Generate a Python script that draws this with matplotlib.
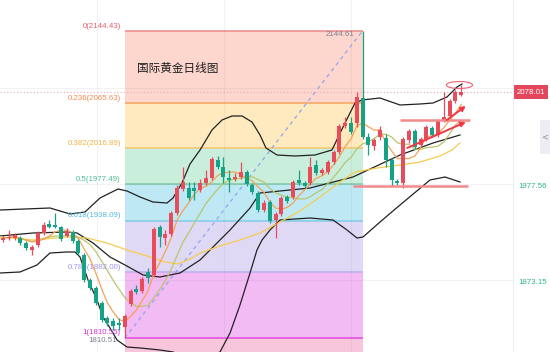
import matplotlib
matplotlib.use("Agg")
import matplotlib.pyplot as plt
import matplotlib.transforms as mtrans
from matplotlib.patches import Rectangle, Ellipse
import numpy as np
import pandas as pd

# ---------------- data ----------------
title = "国际黄金日线图"

opens = [1917.13, 1919.30, 1919.30, 1919.30, 1913.86, 1906.25, 1911.69, 1924.74, 1934.53, 1933.44,
         1931.26, 1921.48, 1925.83, 1916.04, 1900.81, 1873.62, 1864.92, 1848.61, 1832.29, 1829.03,
         1826.86, 1822.50, 1847.52, 1863.83, 1861.66, 1882.32, 1879.06, 1931.26, 1919.30, 1923.65,
         1946.49, 1972.59, 1973.68, 1973.68, 1971.51, 1979.12, 1984.56, 2004.13, 1996.52, 1984.56,
         1983.47, 1985.64, 1991.08, 1976.94, 1968.24, 1949.75, 1958.45, 1938.88, 1945.40, 1963.89,
         1963.89, 1982.38, 1979.12, 1979.12, 1998.70, 1990.00, 1991.08, 2001.96, 2012.83, 2041.11,
         2044.38, 2044.38, 2071.57, 2029.15, 2019.36, 2029.15, 2028.06, 2004.13, 1981.29, 1979.12,
         2025.89, 2035.67, 2020.45, 2026.97, 2038.94, 2031.32, 2047.64, 2051.99, 2068.30, 2074.83]
closes = [1919.30, 1920.39, 1922.56, 1913.86, 1908.43, 1909.51, 1924.74, 1933.44, 1931.26, 1931.26,
          1918.21, 1925.83, 1916.04, 1902.99, 1873.62, 1864.92, 1848.61, 1830.12, 1826.86, 1823.59,
          1824.68, 1834.47, 1861.66, 1860.57, 1874.71, 1875.80, 1929.09, 1920.39, 1923.65, 1946.49,
          1973.68, 1980.21, 1962.81, 1970.42, 1979.12, 1984.56, 2005.22, 1996.52, 1985.64, 1982.38,
          1985.64, 1991.08, 1978.03, 1969.33, 1949.75, 1957.37, 1937.79, 1945.40, 1962.81, 1959.54,
          1980.21, 1979.12, 1975.86, 1996.52, 1990.00, 1993.26, 2001.96, 2012.83, 2041.11, 2044.38,
          2034.59, 2072.65, 2029.15, 2020.45, 2025.89, 2036.76, 2004.13, 1982.38, 1979.12, 2026.97,
          2035.67, 2018.27, 2026.97, 2040.02, 2031.32, 2046.55, 2050.90, 2068.30, 2078.09, 2078.01]
highs = [1921.48, 1928.00, 1924.74, 1921.48, 1916.04, 1911.69, 1926.91, 1936.70, 1938.88, 1946.49,
         1932.35, 1930.18, 1928.00, 1918.21, 1902.99, 1875.80, 1867.10, 1850.78, 1834.47, 1832.29,
         1832.29, 1836.64, 1863.83, 1868.18, 1876.88, 1886.67, 1931.26, 1933.44, 1928.00, 1948.67,
         1976.94, 1996.52, 1980.21, 1980.21, 1983.47, 1993.26, 2007.40, 2008.48, 2007.40, 1993.26,
         1990.00, 2001.96, 1993.26, 1979.12, 1970.42, 1960.63, 1960.63, 1947.58, 1964.98, 1966.07,
         1982.38, 1993.26, 1981.29, 2007.40, 2004.13, 1995.43, 2004.13, 2015.01, 2043.29, 2050.90,
         2050.90, 2078.09, 2144.61, 2033.50, 2028.06, 2041.11, 2032.41, 2006.31, 1983.47, 2029.15,
         2037.85, 2037.85, 2029.15, 2042.20, 2041.11, 2048.73, 2078.09, 2070.48, 2080.27, 2085.70]
lows = [1914.95, 1917.13, 1917.13, 1911.69, 1906.25, 1900.81, 1909.51, 1922.56, 1930.18, 1930.18,
        1916.04, 1920.39, 1913.86, 1900.81, 1871.45, 1862.75, 1846.43, 1827.94, 1823.59, 1819.24,
        1819.24, 1810.51, 1845.34, 1858.40, 1859.48, 1870.36, 1876.88, 1909.51, 1911.69, 1921.48,
        1944.32, 1970.42, 1960.63, 1960.63, 1969.33, 1976.94, 1982.38, 1994.35, 1979.12, 1969.33,
        1981.29, 1983.47, 1975.86, 1967.16, 1947.58, 1947.58, 1935.62, 1919.30, 1943.23, 1957.37,
        1961.72, 1976.94, 1973.68, 1976.94, 1987.82, 1987.82, 1988.91, 1999.78, 2010.66, 2038.94,
        2032.41, 2040.02, 2026.97, 2009.57, 2015.01, 2025.89, 1996.52, 1975.86, 1976.94, 1973.68,
        2022.62, 2016.10, 2018.27, 2024.80, 2029.15, 2029.15, 2045.46, 2049.81, 2066.13, 2073.74]

# Bollinger bands and MA30 (x = candle index)
ub_x = [-0.5, 8.1, 11.55, 14.14, 16.72, 19.83, 21.38, 23.62, 25.86, 28.28, 29.31, 30.86, 32.24, 33.97,
        36.03, 37.76, 39.48, 41.21, 42.93, 44.31, 45.34, 47.24, 50.34, 53.79, 56.72, 58.62, 60.69,
        61.9, 65.0, 68.45, 71.9, 74.14, 76.55, 78.28, 79.14]
ub_v = [1949.75, 1951.93, 1945.40, 1947.58, 1962.81, 1972.59, 1970.42, 1963.89, 1958.45, 1957.37,
        1962.81, 1979.12, 1999.78, 2015.01, 2036.76, 2047.64, 2051.99, 2051.99, 2045.46, 2031.32,
        2017.19, 2009.57, 2008.48, 2009.57, 2015.01, 2040.02, 2066.13, 2069.39, 2071.57, 2063.95,
        2065.04, 2066.13, 2072.65, 2083.53, 2086.79]
mb_x = [-0.5, 5.17, 11.03, 12.76, 15.52, 18.45, 21.38, 24.14, 27.07, 30.52, 33.97, 39.14, 42.59,
        44.31, 46.03, 49.48, 52.93, 60.34, 68.45, 74.14, 78.79]
mb_v = [1921.48, 1924.74, 1925.83, 1924.74, 1913.86, 1898.64, 1888.76, 1879.06, 1876.88, 1881.24,
        1895.37, 1928.00, 1951.93, 1968.24, 1969.33, 1971.51, 1973.68, 1985.64, 2009.57, 2022.62,
        2031.32]
lb_x = [-0.5, 2.93, 5.86, 8.1, 11.03, 12.41, 13.28, 14.66, 16.21, 17.24, 18.45, 19.66, 21.38, 23.62,
        27.07, 29.31, 31.72, 34.83, 37.41, 39.14, 40.86, 42.59, 43.79, 44.66, 46.03, 47.76, 52.93,
        56.9, 59.31, 61.03, 62.07, 65.0, 68.45, 73.62, 76.21, 78.79]
lb_v = [1881.24, 1882.32, 1889.94, 1902.99, 1904.08, 1904.08, 1898.64, 1873.62, 1851.87, 1833.38,
        1821.42, 1808.37, 1800.75, 1799.67, 1797.49, 1795.33, 1788.79, 1788.79, 1795.33, 1815.98,
        1846.43, 1881.24, 1906.25, 1917.13, 1928.00, 1938.88, 1941.05, 1938.88, 1928.00, 1919.30,
        1920.39, 1936.70, 1955.19, 1982.38, 1985.64, 1980.21]
ma30_x = [-0.5, 5.17, 11.03, 14.48, 17.93, 21.38, 24.83, 27.93, 30.17, 32.24, 33.97, 37.41, 40.86,
          44.31, 47.76, 51.21, 54.66, 58.1, 60.69, 64.48, 68.45, 71.9, 75.34, 77.41, 78.79]
ma30_v = [1920.39, 1917.13, 1920.39, 1919.30, 1913.86, 1906.25, 1899.72, 1893.20, 1891.02, 1896.46,
          1902.99, 1910.60, 1917.13, 1924.74, 1936.70, 1948.67, 1963.89, 1980.21, 1991.08, 1995.43,
          1998.70, 2001.96, 2008.48, 2015.01, 2022.62]

fib_ratios = [0, 0.236, 0.382, 0.5, 0.618, 0.786, 1]
fib_values = [2144.43, 2065.63, 2016.89, 1977.49, 1938.09, 1882.00, 1810.55]
fib_low = (21, 1810.51)
fib_high = (62, 2144.61)
last_price = 2078.01
axis_ticks = [1873.15, 1977.56, 2081.97]
axis_labels = [(2186.37, "2186.37"), (1977.56, "1977.56"), (1873.15, "1873.15")]
vgrid = [16.2, 38.1, 60.0]
support = (1975.86, 60.3, 80.2)
resistance = (2047.64, 68.45, 80.5)
arrows = [((69.7, 2017.2), (79.8, 2045.5)), ((76.5, 2047.6), (79.8, 2062.9))]
ellipse_c = (78.7, 2085.7)

# ---------------- style ----------------
RED = "#E84B5A"
GREEN = "#16A287"
fib_fill = ["#FDD6CD", "#FFE9BF", "#C9EEDB", "#BEE9F4", "#E0D9F5", "#F2BBF3"]
below_fill = "#F8C6DC"
fib_line = ["#EE8A88", "#F7A55C", "#F5C56E", "#7FCCA8", "#82CCE6", "#BBAEEE", "#E44BE0"]
fib_text = ["#E3606E", "#F38D52", "#F1B443", "#4FBE92", "#52B9E2", "#A395EA", "#D235D2"]
SMALL = dict(family=["Liberation Sans", "DejaVu Sans"], fontsize=5.7)
YMIN, YMAX = 1795.31, 2178.15

W, H = 550, 352
fig = plt.figure(figsize=(W / 100, H / 100), dpi=100)
ax = fig.add_axes([0, 0, 513 / W, 1])
ax.set_xlim(-0.517, 87.93)
ax.set_ylim(YMIN, YMAX)
ax.axis("off")

# fib bands
x0, x1 = fib_low[0], fib_high[0] + 0.1
for k in range(len(fib_values) - 1):
    ax.add_patch(Rectangle((x0, fib_values[k + 1]), x1 - x0, fib_values[k] - fib_values[k + 1],
                           facecolor=fib_fill[k], edgecolor="none", zorder=0.5))
ax.add_patch(Rectangle((x0, 1790), x1 - x0, fib_values[-1] - 1790,
                       facecolor=below_fill, edgecolor="none", zorder=0.5))
for k, (r, v) in enumerate(zip(fib_ratios, fib_values)):
    ax.hlines(v, x0, x1, color=fib_line[k], lw=1.1, zorder=0.6)
    ax.annotate(f"{r:g}({v:.2f})", xy=(x0, v), xytext=(-2.9, 3.6), textcoords="offset points",
                ha="right", va="center", color=fib_text[k], **SMALL)

# grid
GRID = (0.45, 0.45, 0.55, 0.09)
for t in axis_ticks:
    ax.axhline(t, color=GRID, lw=0.8, zorder=0.8)
for g in vgrid:
    ax.axvline(g, color=GRID, lw=0.8, zorder=0.8)

# current price dotted line
ax.axhline(last_price, color="#F2A7B3", lw=0.8, ls=(0, (1, 2)), zorder=1)

# diagonal
ax.plot([fib_low[0], fib_high[0]], [fib_low[1], fib_high[1]], color="#8FA5F2", lw=0.9,
        ls=(0, (3, 3)), zorder=1.2)

# indicators
cs = pd.Series(closes)
ma5 = cs.rolling(5, min_periods=1).mean()
ma10 = cs.rolling(10, min_periods=1).mean()
idx = np.arange(len(closes))
ax.plot(ub_x, ub_v, color="#222222", lw=0.9, zorder=2)
ax.plot(mb_x, mb_v, color="#222222", lw=0.9, zorder=2)
ax.plot(lb_x, lb_v, color="#222222", lw=0.9, zorder=2)
ax.plot(ma30_x, ma30_v, color="#F6CC4C", lw=0.9, zorder=2)
ax.plot(idx, ma10, color="#B9C66C", lw=0.9, zorder=2)
ax.plot(idx, ma5, color="#F6A157", lw=0.9, zorder=2)

# candles
o = np.array(opens); c = np.array(closes); h = np.array(highs); l = np.array(lows)
cols = [RED if cc >= oo else GREEN for oo, cc in zip(o, c)]
ax.vlines(idx, l, h, colors=cols, lw=0.9, zorder=3)
bottom = np.minimum(o, c)
height = np.maximum(np.abs(c - o), 1.2)
ax.bar(idx, height, bottom=bottom, width=0.68, color=cols, edgecolor="none", zorder=3.1)

# labels on high/low
ax.annotate(f"{fib_high[1]:.2f}", xy=fib_high, xytext=(-6.2, -2.3), textcoords="offset points",
            ha="right", va="center", color="#7C8190", **SMALL)
ax.annotate(f"{fib_low[1]:.2f}", xy=fib_low, xytext=(-5.6, -1.9), textcoords="offset points",
            ha="right", va="center", color="#7C8190", **SMALL)

# annotations
ax.hlines(support[0], support[1], support[2], color="#F28A8C", lw=1.8, zorder=4)
ax.hlines(resistance[0], resistance[1], resistance[2], color="#F28A8C", lw=1.8, zorder=4)
for s, e in arrows:
    ax.annotate("", xy=e, xytext=s,
                arrowprops=dict(arrowstyle="-|>", color="#F23645", lw=1.4, mutation_scale=7,
                                shrinkA=0, shrinkB=0), zorder=5)
ax.add_patch(Ellipse(ellipse_c, 4.5, 7.6, facecolor="none", edgecolor="#F0606E", lw=0.8, zorder=5))

# title
fig.text(137 / W, 1 - 68.7 / H, title, family=["Noto Sans CJK SC", "DejaVu Sans"], fontsize=8.4,
         color="#1E1E1E", ha="left", va="center")

# right axis
fig.add_artist(plt.Line2D([513 / W, 513 / W], [0, 1], color="#EFEFF2", lw=0.8,
                          transform=fig.transFigure))
bt = mtrans.blended_transform_factory(fig.transFigure, ax.transData)
for v, s in axis_labels:
    colr = "#E0606A" if v > last_price else "#2DB38F"
    fig.text(518 / W, v - 2.0, s, transform=bt, ha="left", va="center", color=colr, **SMALL)
yfrac = (last_price - YMIN) / (YMAX - YMIN)
fig.add_artist(Rectangle((514 / W, yfrac - 7 / H), 34 / W, 14 / H, transform=fig.transFigure,
                         facecolor="#E2475B", edgecolor="none"))
fig.text(531 / W, yfrac, f"{last_price:.2f}", ha="center", va="center", color="white", **SMALL)

# side button
fig.add_artist(Rectangle((540 / W, 1 - 154 / H), 12 / W, 34 / H, transform=fig.transFigure,
                         facecolor="#EEEEF2", edgecolor="none"))
fig.text(545 / W, 1 - 137 / H, "<", ha="center", va="center", color="#8A8A90", fontsize=6,
         family="DejaVu Sans")

fig.savefig("out.png", dpi=100)
